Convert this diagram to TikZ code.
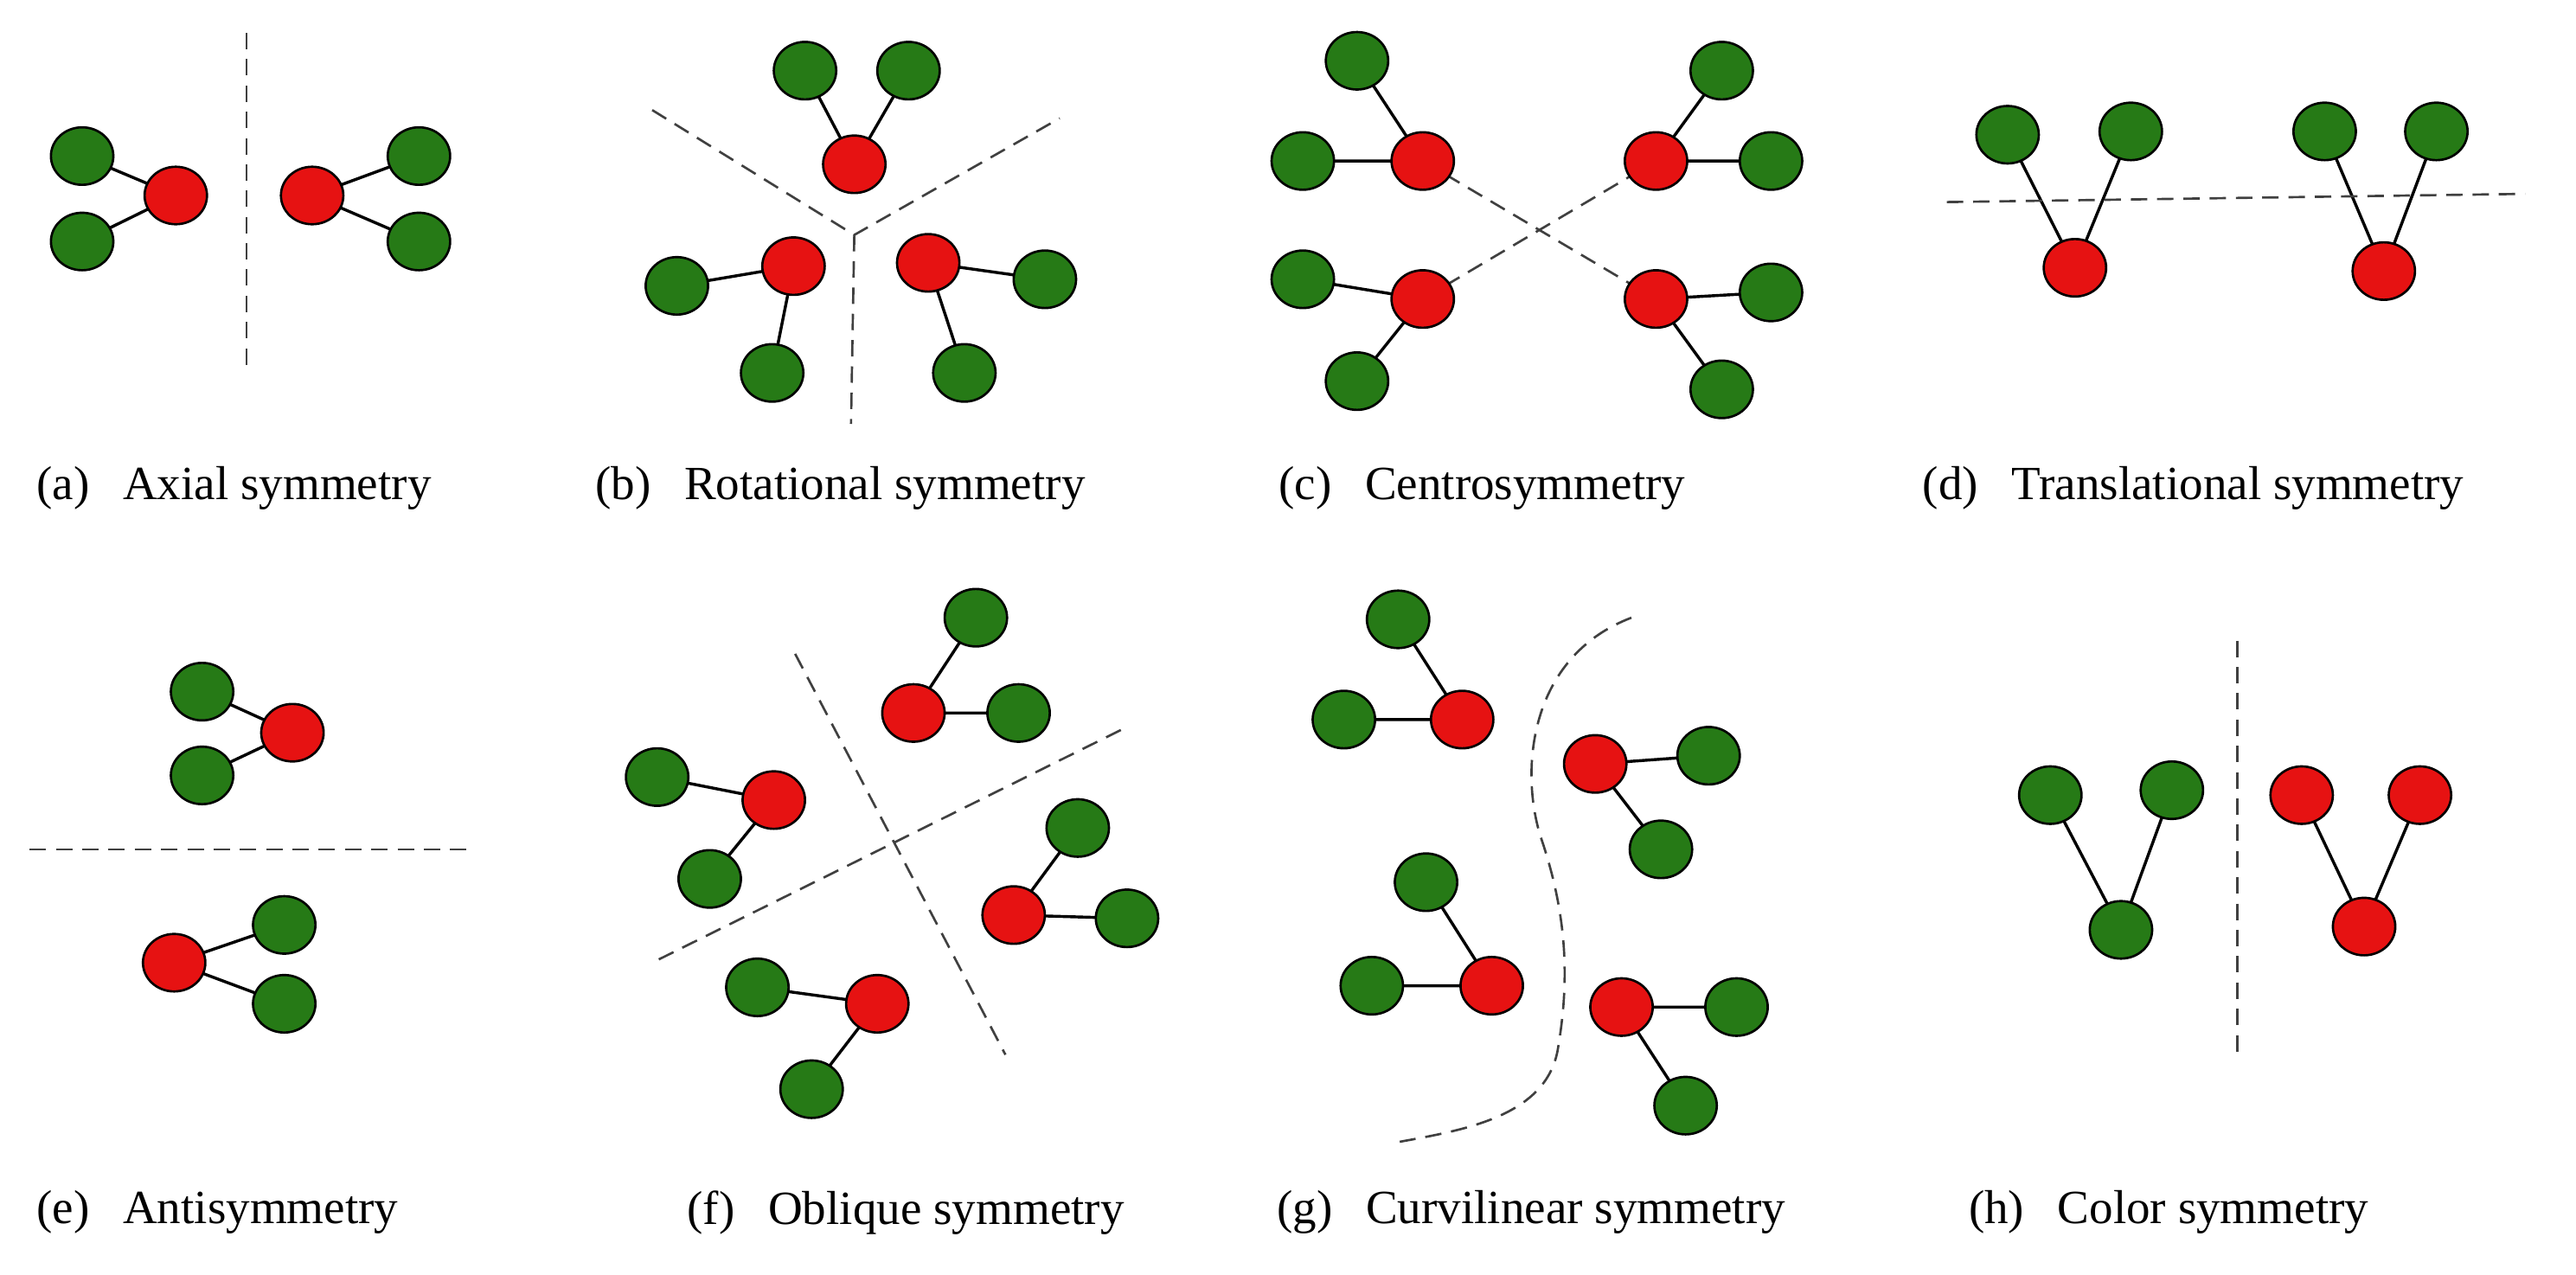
\documentclass[tikz,border=0pt]{standalone}
\usepackage{fontspec}
\setmainfont{Liberation Serif}
\usetikzlibrary{shapes.geometric}
\definecolor{cr}{RGB}{230,18,18}
\definecolor{cg}{RGB}{38,122,22}
\tikzset{
 ball/.style={ellipse,draw=black,line width=0.7pt,minimum width=19pt,minimum height=17.5pt,inner sep=0pt},
 R/.style={ball,fill=cr}, G/.style={ball,fill=cg},
 bond/.style={line width=0.9pt},
 axis/.style={dashed,line width=0.7pt,draw=black!75,dash pattern=on 5pt off 3pt},
 lab/.style={anchor=west,font=\fontsize{14.5}{17}\selectfont,inner sep=0pt}
}
\newcommand\trio[7]{%
 \node[R] (#1r) at (#2,#3) {};
 \node[G] (#1a) at (#4,#5) {};
 \node[G] (#1b) at (#6,#7) {};
 \begin{pgfonlayer}{background}\draw[bond] (#1r.center)--(#1a.center) (#1r.center)--(#1b.center);\end{pgfonlayer}}
\pgfdeclarelayer{background}\pgfsetlayers{background,main}
\begin{document}
\begin{tikzpicture}[x=0.5pt,y=-0.5pt]
\useasboundingbox (0,0) rectangle (1568,776);
% (a)
\trio{a1}{107}{119}{50}{95}{50}{147}
\trio{a2}{190}{119}{255}{95}{255}{147}
\coordinate (aT) at (150,20); \coordinate (aB) at (150,222);
\draw[axis] (aT)--(aB);
% (b)
\trio{b1}{520}{100}{490}{43}{553}{43}
\trio{b2}{483}{162}{412}{174}{470}{227}
\trio{b3}{565}{160}{636}{170}{587}{227}
\coordinate (bC) at (520,143); \coordinate (bL) at (397,67); \coordinate (bR) at (645,72); \coordinate (bD) at (518,258);
\draw[axis] (bL)--(bC)--(bR) (bC)--(bD);
% (c)
\trio{c1}{866}{98}{826}{37}{793}{98}
\trio{c2}{1008}{98}{1048}{43}{1078}{98}
\trio{c3}{866}{182}{793}{170}{826}{232}
\trio{c4}{1008}{182}{1078}{178}{1048}{237}
\begin{pgfonlayer}{background}\draw[axis] (c1r.center)--(c4r.center) (c3r.center)--(c2r.center);\end{pgfonlayer}
% (d)
\trio{d1}{1263}{163}{1222}{82}{1297}{80}
\trio{d2}{1451}{165}{1415}{80}{1483}{80}
\coordinate (dL) at (1185,123); \coordinate (dR) at (1537,118);
\draw[axis] (dL)--(dR);
% (e)
\trio{e1}{178}{446}{123}{421}{123}{472}
\trio{e2}{106}{586}{173}{563}{173}{611}
\coordinate (eL) at (18,517); \coordinate (eR) at (288,517);
\draw[axis] (eL)--(eR);
% (f)
\trio{f1}{556}{434}{594}{376}{620}{434}
\trio{f2}{471}{487}{400}{473}{432}{535}
\trio{f3}{617}{557}{656}{504}{686}{559}
\trio{f4}{534}{611}{461}{601}{494}{663}
\coordinate (f1s) at (484,398); \coordinate (f1e) at (612,642);
\coordinate (f2s) at (401,584); \coordinate (f2e) at (685,443);
\draw[axis] (f1s)--(f1e) (f2s)--(f2e);
% (g)
\trio{g1}{890}{438}{851}{377}{818}{438}
\trio{g2}{971}{465}{1040}{460}{1011}{517}
\trio{g3}{908}{600}{868}{537}{835}{600}
\trio{g4}{987}{613}{1057}{613}{1026}{673}
\coordinate (gT) at (993,376); \coordinate (gB) at (852,695);
\draw[axis] (gT) .. controls (930,400) and (925,470) .. (938,510)
  .. controls (955,560) and (955,600) .. (948,640)
  .. controls (940,680) and (890,688) .. (gB);
% (h)
\node[G] (h1) at (1248,484) {}; \node[G] (h2) at (1322,481) {}; \node[G] (h3) at (1291,566) {};
\node[R] (h4) at (1401,484) {}; \node[R] (h5) at (1473,484) {}; \node[R] (h6) at (1439,564) {};
\begin{pgfonlayer}{background}\draw[bond] (h1.center)--(h3.center)--(h2.center) (h4.center)--(h6.center)--(h5.center);\end{pgfonlayer}
\coordinate (hT) at (1362,390); \coordinate (hB) at (1362,645);
\draw[axis] (hT)--(hB);
% labels
\node[lab] (la) at (22,297) {(a)\hspace{0.7em}Axial symmetry};
\node[lab] (lb) at (362,297) {(b)\hspace{0.7em}Rotational symmetry};
\node[lab] (lc) at (778,297) {(c)\hspace{0.7em}Centrosymmetry};
\node[lab] (ld) at (1170,297) {(d)\hspace{0.7em}Translational symmetry};
\node[lab] (le) at (22,738) {(e)\hspace{0.7em}Antisymmetry};
\node[lab] (lf) at (418,738) {(f)\hspace{0.7em}Oblique symmetry};
\node[lab] (lg) at (777,738) {(g)\hspace{0.7em}Curvilinear symmetry};
\node[lab] (lh) at (1198,738) {(h)\hspace{0.7em}Color symmetry};
\end{tikzpicture}
\end{document}
